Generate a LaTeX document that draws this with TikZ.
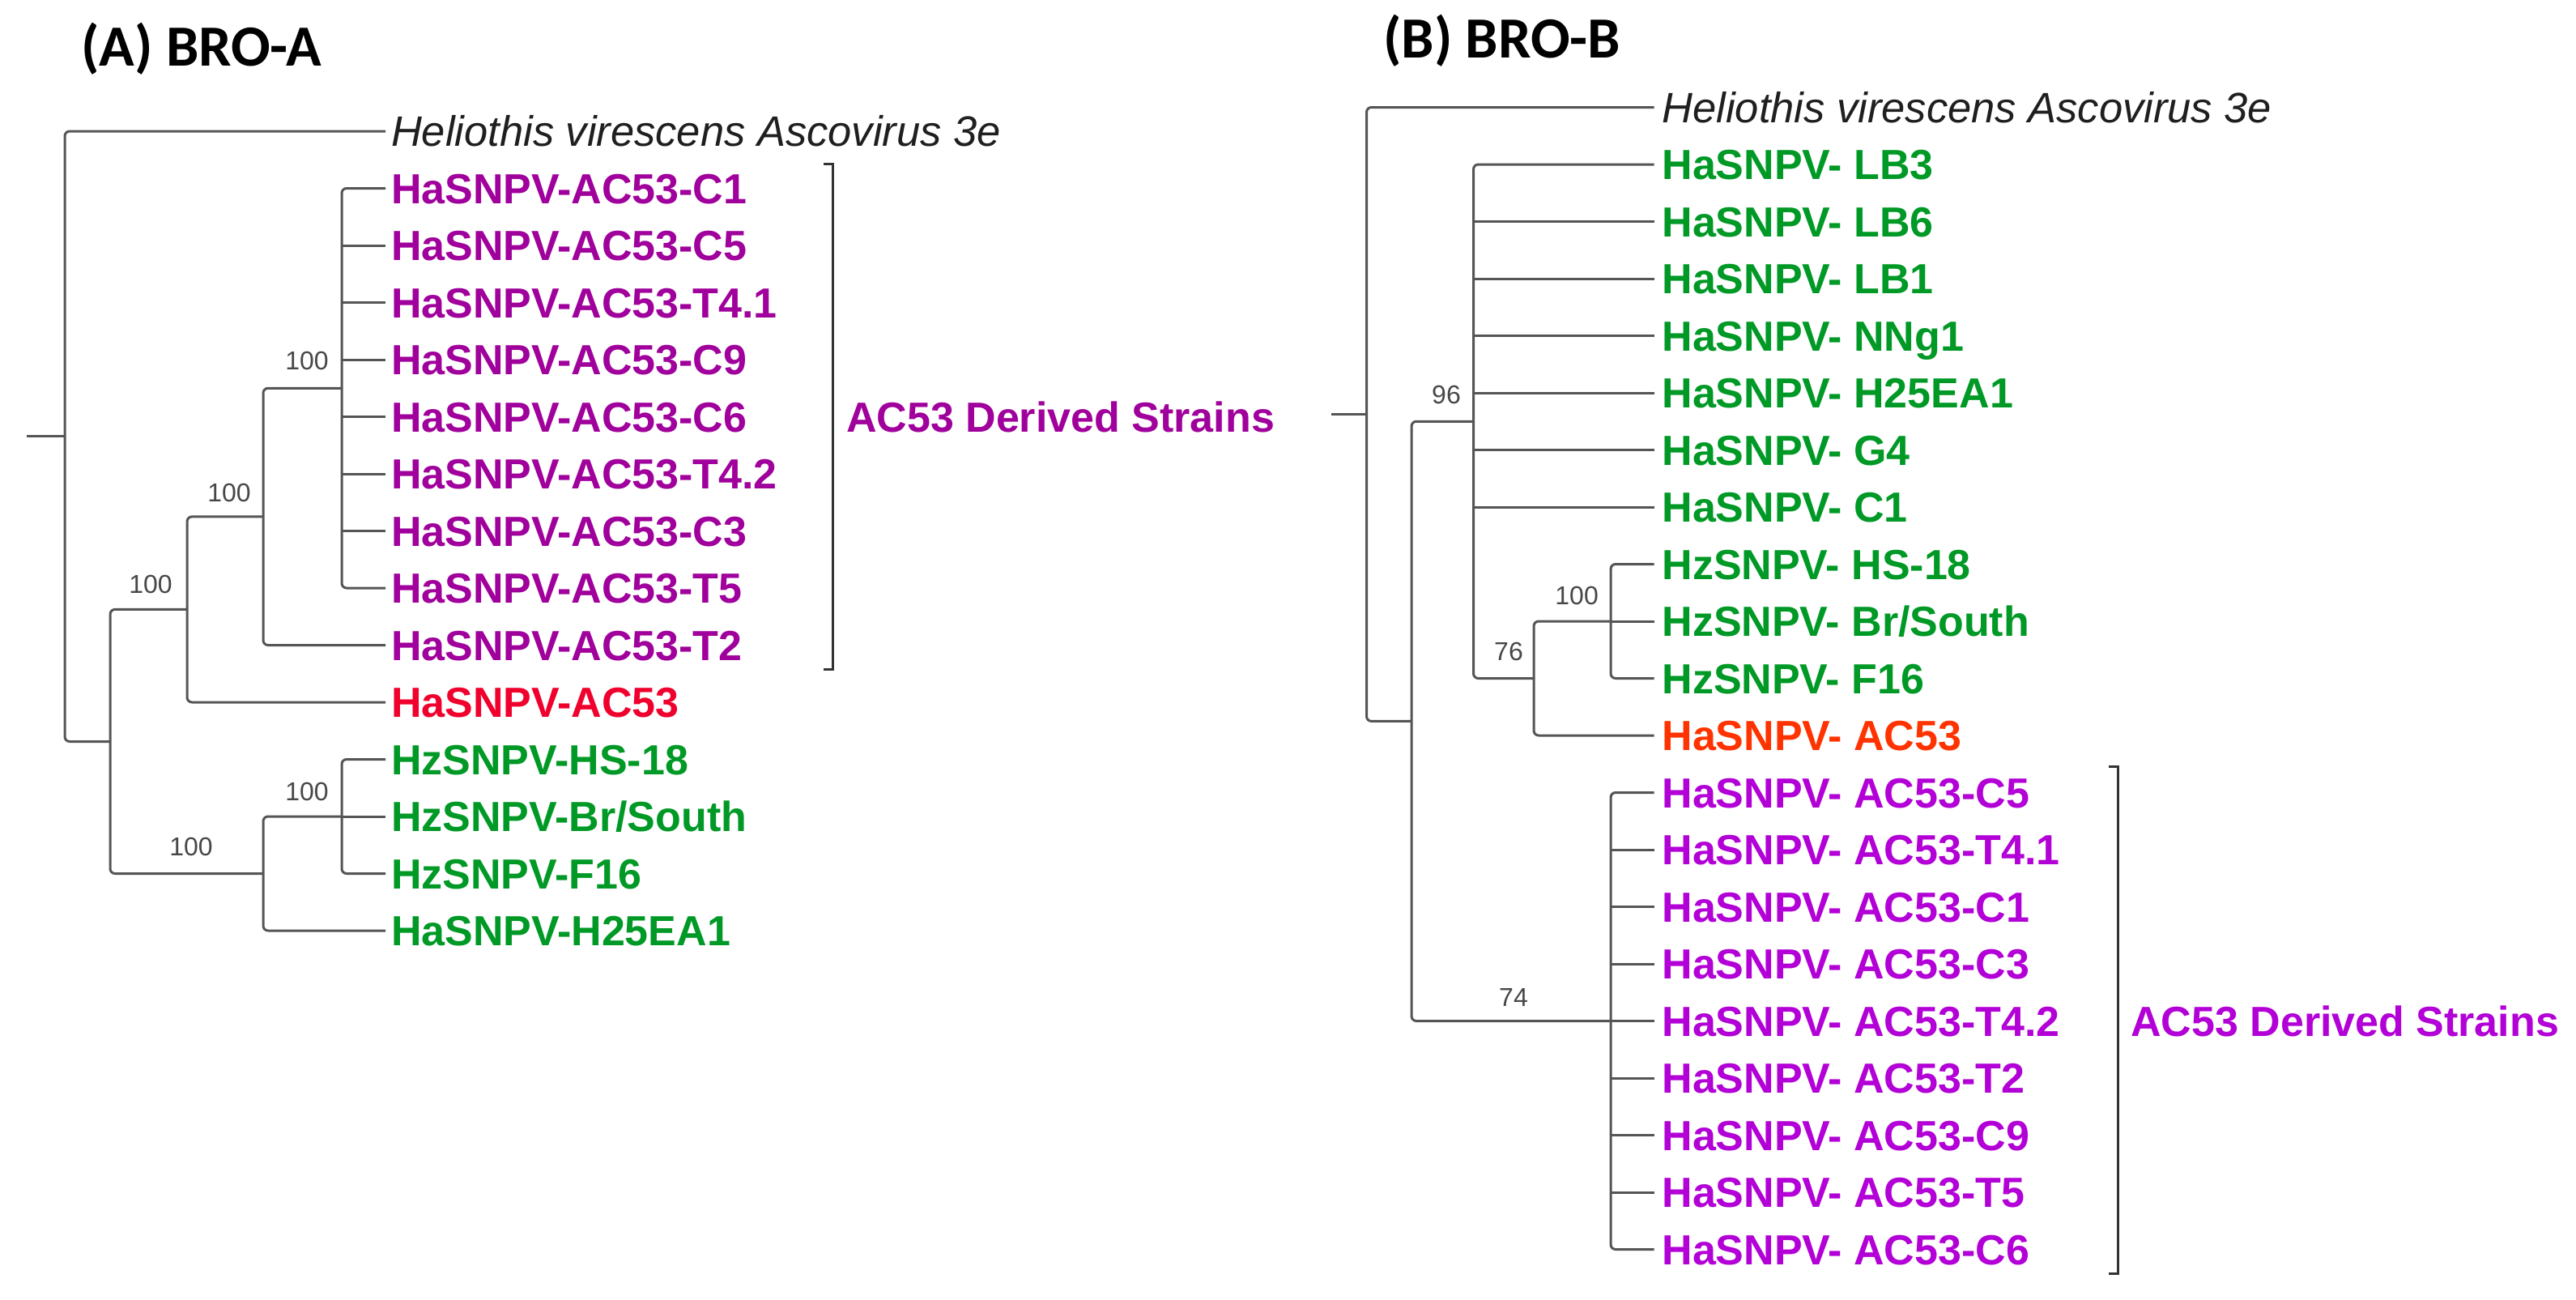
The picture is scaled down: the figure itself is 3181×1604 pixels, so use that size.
\documentclass[tikz,border=0pt]{standalone}
\usepackage{fontspec}
\setmainfont{Liberation Sans}
\newfontfamily\calib{Carlito}
\definecolor{purA}{RGB}{160,0,155}
\definecolor{redA}{RGB}{240,0,45}
\definecolor{grn}{RGB}{0,153,38}
\definecolor{redB}{RGB}{255,51,0}
\definecolor{purB}{RGB}{178,0,215}
\definecolor{brc}{RGB}{85,85,85}
\begin{document}
\begin{tikzpicture}[x=1pt,y=-1pt,
  br/.style={draw=brc,line width=3pt,rounded corners=6pt},
  brk/.style={draw=black!80,line width=3pt},
  leafbase/.style={anchor=west,inner ysep=0pt,outer sep=0pt,text height=37.2pt,text depth=0pt,font=\fontsize{52}{60}\selectfont\bfseries},
  leafA/.style={leafbase,inner xsep=7pt},
  leafB/.style={leafbase,inner xsep=10pt},
  helio/.style={anchor=west,inner ysep=0pt,outer sep=0pt,text height=37.2pt,text depth=0pt,font=\fontsize{52.5}{60}\selectfont\itshape,text=black!88},
  boot/.style={anchor=east,inner sep=0pt,text height=23pt,text depth=0pt,font=\fontsize{32}{36}\selectfont,text=black!72},
  title/.style={anchor=base west,inner sep=0pt,font=\fontsize{72}{80}\selectfont\calib\bfseries},
  derived/.style={anchor=west,inner sep=0pt,text height=37.2pt,text depth=0pt,font=\fontsize{52}{60}\selectfont\bfseries}
]
\useasboundingbox (0,0) rectangle (3181,1604);

% ---------------- Panel A ----------------
\node[title] (A-title) at (100,81) {(A) BRO-A};

\node[helio,inner xsep=7pt] (a0) at (476,162) {Heliothis virescens Ascovirus 3e};
\node[leafA,text=purA] (a1) at (476,232.5) {HaSNPV-AC53-C1};
\node[leafA,text=purA] (a2) at (476,303) {HaSNPV-AC53-C5};
\node[leafA,text=purA] (a3) at (476,373.5) {HaSNPV-AC53-T4.1};
\node[leafA,text=purA] (a4) at (476,444) {HaSNPV-AC53-C9};
\node[leafA,text=purA] (a5) at (476,514.5) {HaSNPV-AC53-C6};
\node[leafA,text=purA] (a6) at (476,585) {HaSNPV-AC53-T4.2};
\node[leafA,text=purA] (a7) at (476,655.5) {HaSNPV-AC53-C3};
\node[leafA,text=purA] (a8) at (476,726) {HaSNPV-AC53-T5};
\node[leafA,text=purA] (a9) at (476,796.5) {HaSNPV-AC53-T2};
\node[leafA,text=redA] (a10) at (476,867) {HaSNPV-AC53};
\node[leafA,text=grn] (a11) at (476,937.5) {HzSNPV-HS-18};
\node[leafA,text=grn] (a12) at (476,1008) {HzSNPV-Br/South};
\node[leafA,text=grn] (a13) at (476,1078.5) {HzSNPV-F16};
\node[leafA,text=grn] (a14) at (476,1149) {HaSNPV-H25EA1};

\coordinate (A-stub) at (33,538.7);
\coordinate (A-R) at (80,538.7);
\coordinate (A-N1) at (136,915.5);
\coordinate (A-N2) at (231,752.4);
\coordinate (A-N3) at (325,637.9);
\coordinate (A-N4) at (422,479.25);
\coordinate (A-N5) at (325,1078.5);
\coordinate (A-N6) at (422,1008);

\draw[br] (A-stub) -- (A-R);
\draw[br] (a0.west) -| (A-R) |- (A-N1);
\draw[br] (A-N2) -| (A-N1) |- (A-N5);
\draw[br] (A-N3) -| (A-N2) |- (a10.west);
\draw[br] (A-N4) -| (A-N3) |- (a9.west);
\draw[br] (a1.west) -| (A-N4) |- (a8.west);
\foreach \i in {2,...,7} \draw[br] (A-N4 |- a\i.west) -- (a\i.west);
\draw[br] (A-N6) -| (A-N5) |- (a14.west);
\draw[br] (a11.west) -| (A-N6) |- (a13.west);
\draw[br] (A-N6) -- (a12.west);

\node[boot] (A-b4) at (406,445) {100};
\node[boot] (A-b3) at (310,608) {100};
\node[boot] (A-b2) at (213,721) {100};
\node[boot] (A-b6) at (406,977) {100};
\node[boot] (A-b5) at (263,1045) {100};

\coordinate (A-k1) at (1017,202.5);
\coordinate (A-k2) at (1028,202.5);
\coordinate (A-k3) at (1028,826.5);
\coordinate (A-k4) at (1017,826.5);
\draw[brk] (A-k1) -- (A-k2) -- (A-k3) -- (A-k4);
\node[derived,text=purA] (A-der) at (1045,514.5) {AC53 Derived Strains};

% ---------------- Panel B ----------------
\node[title] (B-title) at (1708,71.5) {(B) BRO-B};

\node[helio,inner xsep=10pt] (b0) at (2042.5,132.5) {Heliothis virescens Ascovirus 3e};
\node[leafB,text=grn] (b1) at (2042.5,203) {HaSNPV- LB3};
\node[leafB,text=grn] (b2) at (2042.5,273.5) {HaSNPV- LB6};
\node[leafB,text=grn] (b3) at (2042.5,344) {HaSNPV- LB1};
\node[leafB,text=grn] (b4) at (2042.5,414.5) {HaSNPV- NNg1};
\node[leafB,text=grn] (b5) at (2042.5,485) {HaSNPV- H25EA1};
\node[leafB,text=grn] (b6) at (2042.5,555.5) {HaSNPV- G4};
\node[leafB,text=grn] (b7) at (2042.5,626) {HaSNPV- C1};
\node[leafB,text=grn] (b8) at (2042.5,696.5) {HzSNPV- HS-18};
\node[leafB,text=grn] (b9) at (2042.5,767) {HzSNPV- Br/South};
\node[leafB,text=grn] (b10) at (2042.5,837.5) {HzSNPV- F16};
\node[leafB,text=redB] (b11) at (2042.5,908) {HaSNPV- AC53};
\node[leafB,text=purB] (b12) at (2042.5,978.5) {HaSNPV- AC53-C5};
\node[leafB,text=purB] (b13) at (2042.5,1049) {HaSNPV- AC53-T4.1};
\node[leafB,text=purB] (b14) at (2042.5,1119.5) {HaSNPV- AC53-C1};
\node[leafB,text=purB] (b15) at (2042.5,1190) {HaSNPV- AC53-C3};
\node[leafB,text=purB] (b16) at (2042.5,1260.5) {HaSNPV- AC53-T4.2};
\node[leafB,text=purB] (b17) at (2042.5,1331) {HaSNPV- AC53-T2};
\node[leafB,text=purB] (b18) at (2042.5,1401.5) {HaSNPV- AC53-C9};
\node[leafB,text=purB] (b19) at (2042.5,1472) {HaSNPV- AC53-T5};
\node[leafB,text=purB] (b20) at (2042.5,1542.5) {HaSNPV- AC53-C6};

\coordinate (B-stub) at (1643.5,511.4);
\coordinate (B-R) at (1687.5,511.4);
\coordinate (B-N1) at (1743,890.4);
\coordinate (B-N2) at (1819.5,520.25);
\coordinate (B-N3) at (1894,837.5);
\coordinate (B-N4) at (1989,767);
\coordinate (B-N5) at (1989,1260.5);

\draw[br] (B-stub) -- (B-R);
\draw[br] (b0.west) -| (B-R) |- (B-N1);
\draw[br] (B-N2) -| (B-N1) |- (B-N5);
\draw[br] (b1.west) -| (B-N2) |- (B-N3);
\foreach \i in {2,...,7} \draw[br] (B-N2 |- b\i.west) -- (b\i.west);
\draw[br] (B-N4) -| (B-N3) |- (b11.west);
\draw[br] (b8.west) -| (B-N4) |- (b10.west);
\draw[br] (B-N4) -- (b9.west);
\draw[br] (b12.west) -| (B-N5) |- (b20.west);
\foreach \i in {13,...,19} \draw[br] (B-N5 |- b\i.west) -- (b\i.west);

\node[boot] (B-b2) at (1804,487) {96};
\node[boot] (B-b4) at (1974,734.5) {100};
\node[boot] (B-b3) at (1881,804) {76};
\node[boot] (B-b1) at (1887,1230.6) {74};

\coordinate (B-k1) at (2604,946);
\coordinate (B-k2) at (2615,946);
\coordinate (B-k3) at (2615,1572);
\coordinate (B-k4) at (2604,1572);
\draw[brk] (B-k1) -- (B-k2) -- (B-k3) -- (B-k4);
\node[derived,text=purB] (B-der) at (2631,1260.5) {AC53 Derived Strains};
\end{tikzpicture}
\end{document}
